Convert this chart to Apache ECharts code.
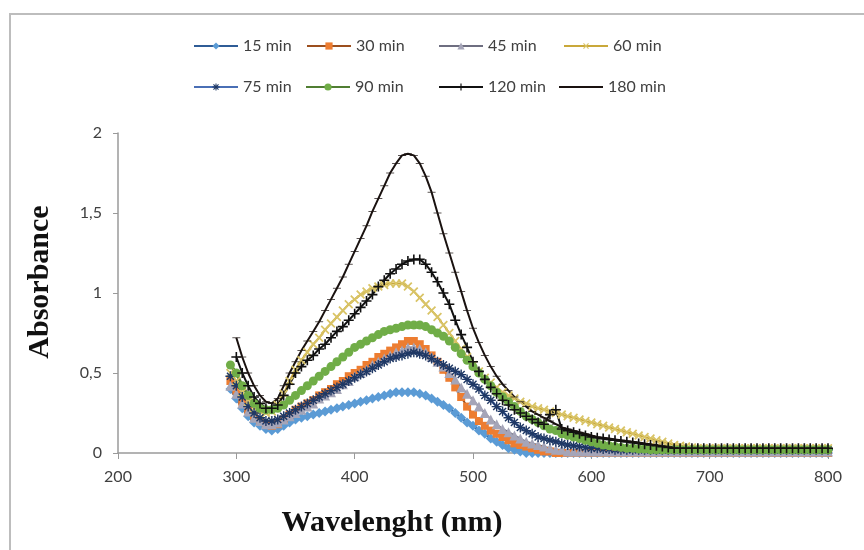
<!DOCTYPE html>
<html><head><meta charset="utf-8">
<script src="https://cdn.jsdelivr.net/npm/echarts@6/dist/echarts.min.js"></script>
<style>html,body{margin:0;padding:0;background:#fff}#c{width:864px;height:550px}</style>
</head><body><div id="c"></div>
<script>
const wavelengths = [295,300,305,310,315,320,325,330,335,340,
345,350,355,360,365,370,375,380,385,390,
395,400,405,410,415,420,425,430,435,440,
445,450,455,460,465,470,475,480,485,490,
495,500,505,510,515,520,525,530,535,540,
545,550,555,560,565,570,575,580,585,590,
595,600,605,610,615,620,625,630,635,640,
645,650,655,660,665,670,675,680,685,690,
695,700,705,710,715,720,725,730,735,740,
745,750,755,760,765,770,775,780,785,790,
795,800];

const seriesNames = ['15 min','30 min','45 min','60 min','75 min','90 min','120 min','180 min'];
const xTicks = [200,300,400,500,600,700,800];
const yTicks = [0,0.5,1,1.5,2];

const min15 = [0.40,0.34,0.28,0.23,0.19,0.17,0.15,0.14,0.15,0.17,
0.19,0.21,0.22,0.23,0.24,0.25,0.26,0.27,0.28,0.29,
0.30,0.31,0.32,0.33,0.34,0.35,0.36,0.37,0.38,0.38,
0.38,0.38,0.37,0.36,0.34,0.32,0.30,0.28,0.25,0.22,
0.19,0.17,0.14,0.12,0.09,0.07,0.05,0.03,0.02,0.01,
0,0,0,0,0,0,0,0,0,0,
0,0,0,0,0,0,0,0,0,0,
0,0,0,0,0,0,0,0,0,0,
0,0,0,0,0,0,0,0,0,0,
0,0,0,0,0,0,0,0,0,0,
0,0];

const min30 = [0.45,0.39,0.32,0.27,0.23,0.20,0.18,0.17,0.18,0.21,
0.24,0.27,0.29,0.31,0.33,0.36,0.38,0.40,0.43,0.45,
0.48,0.50,0.52,0.55,0.57,0.60,0.62,0.64,0.66,0.68,
0.70,0.70,0.68,0.65,0.61,0.57,0.52,0.47,0.41,0.35,
0.29,0.24,0.20,0.17,0.14,0.12,0.10,0.08,0.06,0.05,
0.04,0.03,0.02,0.01,0.01,0,0,0,0,0,
0,0,0,0,0,0,0,0,0,0,
0,0,0,0,0,0,0,0,0,0,
0,0,0,0,0,0,0,0,0,0,
0,0,0,0,0,0,0,0,0,0,
0,0];

const min45 = [0.42,0.37,0.31,0.26,0.22,0.20,0.18,0.18,0.19,0.21,
0.23,0.25,0.27,0.29,0.31,0.34,0.36,0.38,0.40,0.43,
0.45,0.48,0.50,0.52,0.55,0.57,0.59,0.61,0.63,0.64,
0.66,0.66,0.65,0.63,0.60,0.57,0.54,0.50,0.46,0.41,
0.37,0.33,0.29,0.25,0.21,0.18,0.15,0.13,0.11,0.09,
0.07,0.06,0.05,0.04,0.03,0.02,0.02,0.01,0.01,0.01,
0.01,0.01,0.01,0.01,0.01,0.01,0.01,0.01,0.01,0.01,
0.01,0.01,0.01,0.01,0.01,0.01,0.01,0.01,0.01,0.01,
0.01,0.01,0.01,0.01,0.01,0.01,0.01,0.01,0.01,0.01,
0.01,0.01,0.01,0.01,0.01,0.01,0.01,0.01,0.01,0.01,
0.01,0.01];

const min60 = [0.50,0.45,0.38,0.32,0.28,0.26,0.25,0.26,0.30,0.37,
0.45,0.52,0.58,0.63,0.68,0.72,0.77,0.81,0.85,0.89,
0.93,0.96,0.99,1.01,1.03,1.04,1.05,1.06,1.06,1.06,
1.04,1.01,0.97,0.93,0.89,0.85,0.80,0.75,0.70,0.65,
0.60,0.55,0.51,0.47,0.44,0.41,0.38,0.36,0.34,0.32,
0.31,0.29,0.28,0.27,0.26,0.25,0.24,0.23,0.22,0.21,
0.20,0.19,0.18,0.17,0.16,0.15,0.14,0.13,0.12,0.11,
0.10,0.09,0.08,0.07,0.06,0.05,0.045,0.04,0.035,0.03,
0.03,0.03,0.03,0.03,0.03,0.03,0.03,0.03,0.03,0.03,
0.03,0.03,0.03,0.03,0.03,0.03,0.03,0.03,0.03,0.03,
0.03,0.03];

const min75 = [0.48,0.42,0.35,0.29,0.25,0.22,0.20,0.20,0.21,0.23,
0.25,0.27,0.29,0.31,0.33,0.35,0.37,0.39,0.41,0.43,
0.45,0.47,0.49,0.51,0.53,0.55,0.57,0.59,0.60,0.61,
0.62,0.63,0.62,0.61,0.59,0.57,0.55,0.53,0.51,0.49,
0.46,0.43,0.40,0.36,0.33,0.29,0.26,0.22,0.19,0.16,
0.14,0.12,0.10,0.09,0.08,0.07,0.06,0.05,0.045,0.04,
0.035,0.03,0.03,0.025,0.025,0.02,0.02,0.02,0.02,0.02,
0.02,0.02,0.02,0.02,0.02,0.02,0.02,0.02,0.02,0.02,
0.02,0.02,0.02,0.02,0.02,0.02,0.02,0.02,0.02,0.02,
0.02,0.02,0.02,0.02,0.02,0.02,0.02,0.02,0.02,0.02,
0.02,0.02];

const min90 = [0.55,0.50,0.42,0.36,0.31,0.28,0.27,0.27,0.28,0.30,
0.33,0.36,0.39,0.42,0.45,0.48,0.51,0.54,0.57,0.60,
0.63,0.66,0.68,0.70,0.72,0.74,0.76,0.77,0.78,0.79,
0.80,0.80,0.80,0.79,0.77,0.75,0.73,0.70,0.66,0.62,
0.58,0.54,0.50,0.46,0.42,0.38,0.35,0.32,0.29,0.26,
0.23,0.21,0.19,0.17,0.15,0.14,0.12,0.11,0.10,0.09,
0.08,0.07,0.06,0.05,0.045,0.04,0.035,0.03,0.03,0.025,
0.025,0.02,0.02,0.02,0.02,0.02,0.02,0.02,0.02,0.02,
0.02,0.02,0.02,0.02,0.02,0.02,0.02,0.02,0.02,0.02,
0.02,0.02,0.02,0.02,0.02,0.02,0.02,0.02,0.02,0.02,
0.02,0.02];

const min120 = [null,0.60,0.50,0.42,0.35,0.31,0.28,0.28,0.30,0.36,
0.43,0.50,0.54,0.58,0.61,0.65,0.68,0.72,0.76,0.79,
0.83,0.87,0.91,0.95,0.99,1.04,1.08,1.12,1.15,1.18,
1.20,1.21,1.21,1.18,1.13,1.07,1.00,0.93,0.83,0.74,
0.66,0.57,0.51,0.46,0.41,0.37,0.33,0.30,0.27,0.25,
0.23,0.21,0.19,0.18,0.24,0.27,0.15,0.14,0.13,0.12,
0.11,0.10,0.095,0.09,0.085,0.08,0.075,0.07,0.065,0.06,
0.055,0.05,0.045,0.04,0.035,0.03,0.03,0.03,0.03,0.03,
0.03,0.03,0.03,0.03,0.03,0.03,0.03,0.03,0.03,0.03,
0.03,0.03,0.03,0.03,0.03,0.03,0.03,0.03,0.03,0.03,
0.03,0.03];

const min180 = [null,0.72,0.60,0.50,0.42,0.36,0.32,0.31,0.34,0.42,
0.50,0.57,0.64,0.70,0.76,0.82,0.89,0.96,1.03,1.10,
1.18,1.26,1.34,1.42,1.51,1.59,1.67,1.75,1.81,1.86,
1.87,1.86,1.81,1.73,1.63,1.50,1.37,1.25,1.13,1.01,
0.89,0.78,0.69,0.61,0.54,0.48,0.43,0.39,0.35,0.32,
0.29,0.26,0.24,0.22,0.20,0.18,0.16,0.15,0.14,0.13,
0.12,0.11,0.10,0.095,0.09,0.085,0.08,0.075,0.07,0.065,
0.06,0.055,0.05,0.045,0.04,0.035,0.03,0.03,0.03,0.03,
0.03,0.03,0.03,0.03,0.03,0.03,0.03,0.03,0.03,0.03,
0.03,0.03,0.03,0.03,0.03,0.03,0.03,0.03,0.03,0.03,
0.03,0.03];

const allValues = [min15,min30,min45,min60,min75,min90,min120,min180];

const PLUS = 'path://M4.2,0H5.8V10H4.2Z M0,4.2H10V5.8H0Z';
const STAR = 'path://M4.3,0H5.7V10H4.3Z M0,4.3H10V5.7H0Z M1,2L2,1L9,8L8,9Z M8,1L9,2L2,9L1,8Z';
const DASH = 'path://M0,0H10V3H0Z';

const styles = [
  {line:'#2F5C96', mark:'#5B9BD5', symbol:'diamond', size:10, rot:0, w:2.5},
  {line:'#9C4F1E', mark:'#ED7D31', symbol:'rect', size:8, rot:0, w:2},
  {line:'#6E6E80', mark:'#A5A5B8', symbol:'triangle', size:10, rot:0, w:2},
  {line:'#C9A83A', mark:'#D9C466', symbol:PLUS, size:11, rot:45, w:2},
  {line:'#4A6FB5', mark:'#1F3864', symbol:STAR, size:10, rot:0, w:2.5},
  {line:'#507E32', mark:'#70AD47', symbol:'circle', size:9, rot:0, w:3},
  {line:'#111111', mark:'#111111', symbol:PLUS, size:10, rot:0, w:2},
  {line:'#1a1210', mark:'#1a1210', symbol:DASH, size:[8,2.4], rot:0, w:2}
];

const legendPos = [[193,38],[306,38],[438,38],[563,38],[193,79],[305,79],[438,79],[558,79]];

const series = seriesNames.map((name,k)=>({
  name: name,
  type: 'line',
  data: wavelengths.map((w,i)=>[w, allValues[k][i]]),
  symbol: styles[k].symbol,
  symbolSize: styles[k].size,
  symbolRotate: styles[k].rot,
  symbolKeepAspect: true,
  showSymbol: true,
  lineStyle: {color: styles[k].line, width: styles[k].w},
  itemStyle: {color: styles[k].mark},
  emphasis: {disabled: true}
}));

const legends = seriesNames.map((name,k)=>({
  data:[ k === 7 ? {name:name, itemStyle:{opacity:0}} : name ],
  left: legendPos[k][0], top: legendPos[k][1], padding:0,
  itemWidth:44, itemHeight:9, itemGap:4,
  textStyle:{fontFamily:'Lato', fontSize:16, color:'#404040'}
}));

const chart = echarts.init(document.getElementById('c'));
chart.setOption({
  animation: false,
  backgroundColor: '#fff',
  legend: legends,
  grid: {left:118, right:36, top:133, bottom:97},
  xAxis: {
    type:'value', min:xTicks[0], max:xTicks[xTicks.length-1], interval:100,
    axisLine:{lineStyle:{color:'#9a9a9a', width:1.5}},
    axisTick:{show:true, inside:false, length:6, lineStyle:{color:'#9a9a9a'}},
    splitLine:{show:false},
    axisLabel:{margin:16, fontFamily:'Lato', fontSize:16, color:'#404040'}
  },
  yAxis: {
    type:'value', min:yTicks[0], max:yTicks[yTicks.length-1], interval:0.5,
    axisLine:{show:true, lineStyle:{color:'#9a9a9a', width:1.5}},
    axisTick:{show:true, length:5, lineStyle:{color:'#9a9a9a'}},
    splitLine:{show:false},
    axisLabel:{margin:16, fontFamily:'Lato', fontSize:16, color:'#404040',
      formatter: v => String(v).replace('.', ',')}
  },
  graphic: [
    {type:'rect', silent:true, z:-10, shape:{x:10, y:14, width:900, height:600},
     style:{fill:'none', stroke:'#bdbdbd', lineWidth:2}},
    {type:'text', silent:true, x:392, y:523,
     style:{text:'Wavelenght (nm)', font:'bold 30px "Liberation Serif"', fill:'#111', align:'center', verticalAlign:'middle'}},
    {type:'text', silent:true, x:40, y:282, rotation:Math.PI/2,
     style:{text:'Absorbance', font:'bold 30px "Liberation Serif"', fill:'#111', align:'center', verticalAlign:'middle'}}
  ],
  series: series
});
</script>
</body></html>
